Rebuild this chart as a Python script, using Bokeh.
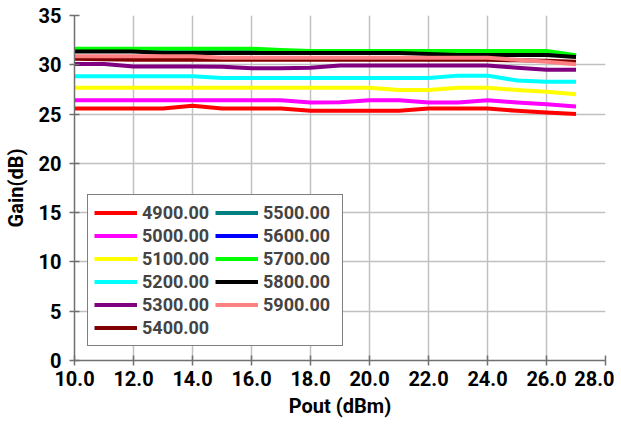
from bokeh.plotting import figure
from bokeh.models import Legend, LegendItem, FixedTicker, Range1d, NumeralTickFormatter
from bokeh.embed import file_html
from bokeh.resources import INLINE

pout = [10, 11, 12, 13, 14, 15, 16, 17, 18, 19, 20, 21, 22, 23, 24, 25, 26, 27]

g4900 = [25.56, 25.56, 25.56, 25.56, 25.85, 25.56, 25.56, 25.56, 25.33, 25.33, 25.33, 25.33, 25.56, 25.56, 25.56, 25.33, 25.16, 25.0]
g5000 = [26.4, 26.4, 26.4, 26.4, 26.4, 26.4, 26.4, 26.4, 26.17, 26.2, 26.4, 26.4, 26.17, 26.17, 26.4, 26.17, 26.0, 25.77]
g5100 = [27.66, 27.66, 27.66, 27.66, 27.66, 27.66, 27.66, 27.66, 27.66, 27.66, 27.66, 27.43, 27.43, 27.66, 27.66, 27.45, 27.26, 27.0]
g5200 = [28.83, 28.83, 28.83, 28.83, 28.83, 28.67, 28.67, 28.67, 28.67, 28.67, 28.67, 28.67, 28.67, 28.9, 28.9, 28.4, 28.27, 28.27]
g5300 = [30.07, 30.07, 29.83, 29.83, 29.83, 29.8, 29.65, 29.65, 29.7, 29.93, 29.93, 29.93, 29.93, 29.93, 29.93, 29.7, 29.5, 29.5]
g5400 = [30.6, 30.55, 30.5, 30.5, 30.5, 30.5, 30.5, 30.5, 30.5, 30.5, 30.5, 30.5, 30.5, 30.5, 30.5, 30.45, 30.4, 30.3]
g5500 = [31.5, 31.5, 31.5, 31.5, 31.5, 31.5, 31.5, 31.3, 31.3, 31.3, 31.3, 31.3, 31.3, 31.3, 31.3, 31.3, 31.3, 30.9]
g5600 = [31.45, 31.45, 31.45, 31.45, 31.45, 31.45, 31.45, 31.25, 31.25, 31.25, 31.25, 31.25, 31.25, 31.25, 31.25, 31.25, 31.1, 30.92]
g5700 = [31.63, 31.63, 31.63, 31.63, 31.63, 31.63, 31.63, 31.5, 31.4, 31.4, 31.4, 31.4, 31.4, 31.4, 31.4, 31.4, 31.4, 30.98]
g5800 = [31.35, 31.35, 31.35, 31.2, 31.2, 31.2, 31.2, 31.2, 31.2, 31.2, 31.2, 31.2, 31.1, 31.0, 31.0, 31.0, 31.0, 30.8]
g5900 = [30.86, 30.86, 30.86, 30.86, 30.86, 30.72, 30.72, 30.72, 30.72, 30.72, 30.72, 30.72, 30.72, 30.72, 30.72, 30.5, 30.3, 30.06]

labels = ["4900.00", "5000.00", "5100.00", "5200.00", "5300.00", "5400.00",
          "5500.00", "5600.00", "5700.00", "5800.00", "5900.00"]
series = [g4900, g5000, g5100, g5200, g5300, g5400, g5500, g5600, g5700, g5800, g5900]
colors = ["#FF0000", "#FF00FF", "#FFFF00", "#00FFFF", "#800080", "#800000",
          "#008080", "#0000FF", "#00FF00", "#000000", "#FF8080"]

x_ticks = [10, 12, 14, 16, 18, 20, 22, 24, 26, 28]
y_ticks = [0, 5, 10, 15, 20, 25, 30, 35]

FONT = "Roboto, 'Liberation Sans', sans-serif"
FSIZE = "20px"

p = figure(frame_width=531, frame_height=345, output_backend="svg", toolbar_location=None,
           x_range=Range1d(10, 28), y_range=Range1d(0, 35),
           min_border_left=73, min_border_top=15, min_border_right=9, min_border_bottom=60)
p.outline_line_color = None

items = []
for lab, ys, c in zip(labels, series, colors):
    r = p.line(pout, ys, line_color=c, line_width=4, line_join="round")
    items.append(LegendItem(label=lab, renderers=[r]))

p.xaxis.ticker = FixedTicker(ticks=x_ticks)
p.yaxis.ticker = FixedTicker(ticks=y_ticks)
p.xaxis.formatter = NumeralTickFormatter(format="0.0")
p.xaxis.axis_label = "Pout (dBm)"
p.yaxis.axis_label = "Gain(dB)"
for ax in (p.xaxis[0], p.yaxis[0]):
    ax.major_label_text_font = FONT
    ax.major_label_text_font_style = "bold"
    ax.major_label_text_font_size = FSIZE
    ax.major_label_text_color = "#000000"
    ax.axis_label_text_font = FONT
    ax.axis_label_text_font_style = "bold"
    ax.axis_label_text_font_size = FSIZE
    ax.axis_label_text_color = "#000000"
    ax.axis_line_color = "#707070"
    ax.axis_line_width = 1.5
    ax.major_tick_line_color = "#707070"
    ax.major_tick_line_width = 1.5
    ax.major_tick_in = 5
    ax.major_tick_out = 5
    ax.minor_tick_line_color = None
p.xaxis.major_label_standoff = 5
p.yaxis.major_label_standoff = 8
p.xaxis.axis_label_standoff = 5
p.yaxis.axis_label_standoff = 8

p.xgrid.ticker = FixedTicker(ticks=x_ticks)
p.ygrid.ticker = FixedTicker(ticks=y_ticks)
p.grid.grid_line_color = "#C0C0C0"
p.grid.grid_line_width = 1.5

legend = Legend(items=items, location=(13, 14), nrows=6)
legend.label_text_font = FONT
legend.label_text_font_style = "bold"
legend.label_text_font_size = "18px"
legend.glyph_width = 43
legend.glyph_height = 23
legend.label_height = 23
legend.label_width = 73
legend.label_standoff = 5
legend.spacing = 0
legend.padding = 6
legend.margin = 0
legend.border_line_color = "#000000"
legend.border_line_width = 1
legend.background_fill_alpha = 1.0
p.add_layout(legend, "center")

open("out.html", "w").write(file_html(p, INLINE))
